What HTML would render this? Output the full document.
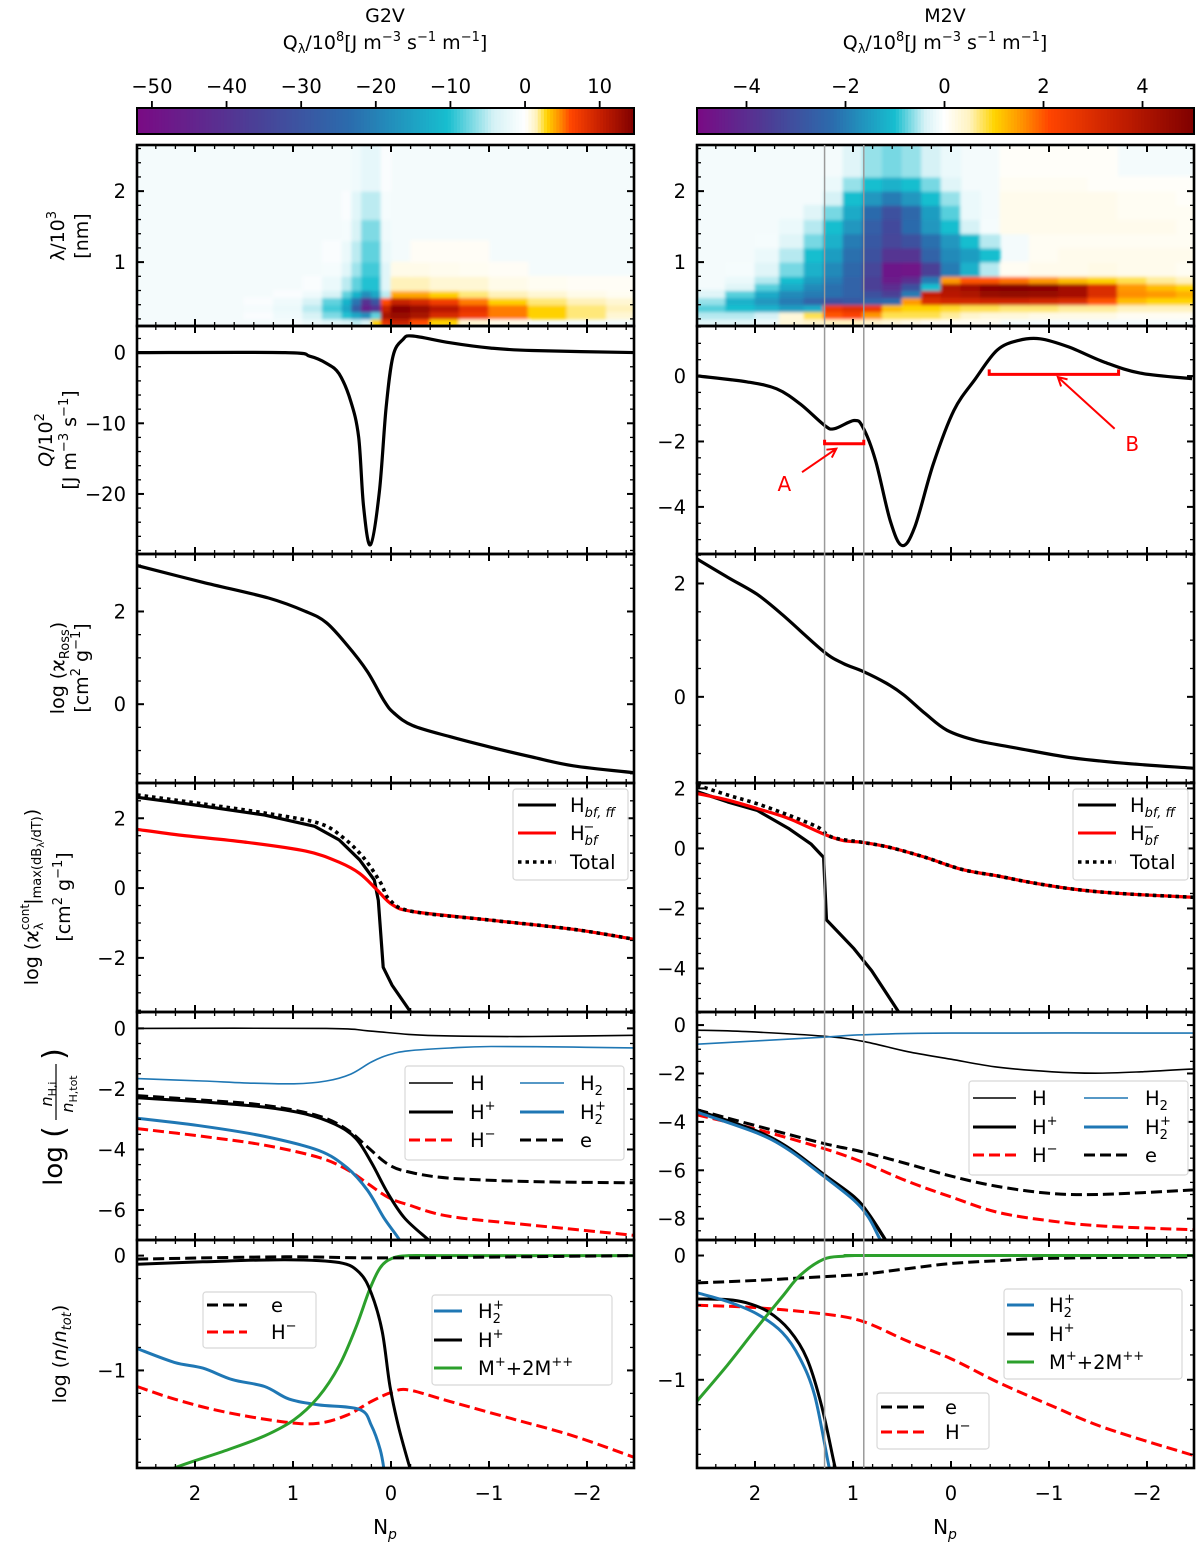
<!DOCTYPE html>
<html><head><meta charset="utf-8">
<style>
html,body{margin:0;padding:0;background:#fff;}
svg{display:block;font-family:"DejaVu Sans","Liberation Sans",sans-serif;}
</style></head>
<body>
<svg id="fig" width="1200" height="1542" viewBox="0 0 1200 1542" xmlns="http://www.w3.org/2000/svg">
<defs>
<filter id="hblur" x="-5%" y="-5%" width="110%" height="110%"><feGaussianBlur stdDeviation="1.6"/></filter>
</defs>
<text x="385" y="22" font-size="19" text-anchor="middle">G2V</text>
<text x="385" y="49" font-size="19" text-anchor="middle">Q<tspan font-size="13" dy="4">λ</tspan><tspan dy="-4">/10</tspan><tspan font-size="13" dy="-8">8</tspan><tspan dy="8">[J m</tspan><tspan font-size="13" dy="-8">−3</tspan><tspan dy="8"> s</tspan><tspan font-size="13" dy="-8">−1</tspan><tspan dy="8"> m</tspan><tspan font-size="13" dy="-8">−1</tspan><tspan dy="8">]</tspan></text>
<text x="945" y="22" font-size="19" text-anchor="middle">M2V</text>
<text x="945" y="49" font-size="19" text-anchor="middle">Q<tspan font-size="13" dy="4">λ</tspan><tspan dy="-4">/10</tspan><tspan font-size="13" dy="-8">8</tspan><tspan dy="8">[J m</tspan><tspan font-size="13" dy="-8">−3</tspan><tspan dy="8"> s</tspan><tspan font-size="13" dy="-8">−1</tspan><tspan dy="8"> m</tspan><tspan font-size="13" dy="-8">−1</tspan><tspan dy="8">]</tspan></text>

<g font-size="19" text-anchor="middle">
<text transform="translate(64,236) rotate(-90)">λ/10<tspan font-size="13" dy="-8">3</tspan></text>
<text transform="translate(88,236) rotate(-90)">[nm]</text>
</g>
<g font-size="19" text-anchor="middle">
<text transform="translate(52,440) rotate(-90)"><tspan font-style="italic">Q</tspan>/10<tspan font-size="13" dy="-8">2</tspan></text>
<text transform="translate(76,440) rotate(-90)">[J m<tspan font-size="13" dy="-8">−3</tspan><tspan dy="8"> s</tspan><tspan font-size="13" dy="-8">−1</tspan><tspan dy="8">]</tspan></text>
</g>
<g font-size="19" text-anchor="middle">
<text transform="translate(64,668) rotate(-90)">log (ϰ<tspan font-size="13" dy="5">Ross</tspan><tspan dy="-5">)</tspan></text>
<text transform="translate(88,668) rotate(-90)">[cm<tspan font-size="13" dy="-8">2</tspan><tspan dy="8"> g</tspan><tspan font-size="13" dy="-8">−1</tspan><tspan dy="8">]</tspan></text>
</g>
<g font-size="19" text-anchor="middle">
<text transform="translate(38,897) rotate(-90)">log (ϰ<tspan font-size="12" dy="-9">cont</tspan><tspan font-size="12" dx="-26" dy="14">λ</tspan><tspan dx="18" dy="-5">|</tspan><tspan font-size="13" dy="3">max(dB</tspan><tspan font-size="10" dy="3">λ</tspan><tspan font-size="13" dy="-3">/dT)</tspan><tspan dy="-3">)</tspan></text>
<text transform="translate(70,897) rotate(-90)">[cm<tspan font-size="13" dy="-8">2</tspan><tspan dy="8"> g</tspan><tspan font-size="13" dy="-8">−1</tspan><tspan dy="8">]</tspan></text>
</g>
<g transform="translate(62,1126) rotate(-90)">
<text x="-40" y="0" font-size="26" text-anchor="middle">log</text>
<text x="-6" y="2" font-size="30" text-anchor="middle">(</text>
<text x="32" y="-10" font-size="16" text-anchor="middle" font-style="italic">n<tspan font-size="11" font-style="normal" dy="4">H,i</tspan></text>
<line x1="6" y1="-6" x2="62" y2="-6" stroke="#000" stroke-width="1.2"/>
<text x="32" y="11" font-size="16" text-anchor="middle" font-style="italic">n<tspan font-size="11" font-style="normal" dy="4">H,tot</tspan></text>
<text x="72" y="2" font-size="30" text-anchor="middle">)</text>
</g>
<text transform="translate(66,1354) rotate(-90)" font-size="19" text-anchor="middle">log (<tspan font-style="italic">n</tspan>/<tspan font-style="italic">n</tspan><tspan font-size="13" font-style="italic" dy="5">tot</tspan><tspan dy="-5">)</tspan></text>

<text x="385" y="1534" font-size="20" text-anchor="middle">N<tspan font-size="14" font-style="italic" dy="5">p</tspan></text>
<text x="945" y="1534" font-size="20" text-anchor="middle">N<tspan font-size="14" font-style="italic" dy="5">p</tspan></text>
<g id="plots"></g>
</svg>
<script>
// ===================== DATA =====================
const g2vHeatNpEdges = [2.6, 2.0, 1.5, 1.2, 0.9, 0.7, 0.5, 0.4, 0.3, 0.2, 0.1, 0.0, -0.2, -0.4, -0.7, -1.0, -1.4, -1.8, -2.2, -2.5];
const g2vHeatLamEdges = [0.1, 0.2, 0.3, 0.4, 0.5, 0.6, 0.8, 1.0, 1.3, 1.6, 2.0, 2.65];
const g2vHeatValues = [
 [0,0,0,-1,-2,-3,-4,-5,-4,3,8,10,6,3,1,0.5,0,0,0],
 [0,0,-0.5,-1.5,-4,-7,-10,-14,-18,-8,12,13,12,9,7,5,3,2,1],
 [0,0,-1,-2,-5,-9,-14,-28,-45,-40,10,14,13,11,8,5,3,2,1.5],
 [0,0,-0.5,-1.5,-4,-8,-12,-22,-40,-30,6,10,9,7,5,3,2,1.5,1],
 [0,0,0,-0.5,-1.5,-4,-8,-12,-18,-14,-5,4,4,3,2,1.5,1,0.5,0.3],
 [0,0,0,0,-0.5,-2,-5,-8,-10,-10,-3,1.5,1.5,1,1,0.5,0.3,0.2,0.2],
 [0,0,0,0,0,-1,-3,-6,-9,-9,-3,0.5,0.5,0.4,0.3,0.2,0,0,0],
 [0,0,0,0,0,-0.5,-2,-5,-8,-8,-2,0,0.2,0.2,0.2,0,0,0,0],
 [0,0,0,0,0,0,-1,-4,-7,-7,-1.5,0,0,0,0,0,0,0,0],
 [0,0,0,0,0,0,-0.5,-3,-5,-5,-1,0,0,0,0,0,0,0,0],
 [0,0,0,0,0,0,0,-1.5,-2.5,-2.5,-0.5,0,0,0,0,0,0,0,0]
];
const g2vCbarTicks = [-50, -40, -30, -20, -10, 0, 10];
const m2vHeatNpEdges = [2.6, 2.3, 2.0, 1.75, 1.5, 1.3, 1.1, 0.9, 0.7, 0.5, 0.3, 0.1, -0.1, -0.3, -0.5, -0.8, -1.1, -1.4, -1.7, -2.0, -2.3, -2.5];
const m2vHeatLamEdges = [0.1, 0.2, 0.3, 0.4, 0.5, 0.6, 0.7, 0.8, 1.0, 1.2, 1.4, 1.6, 1.8, 2.0, 2.2, 2.65];
const m2vHeatValues = [
 [-0.3,-0.3,-0.2,0.3,0.4,0.5,0.5,0.4,0.3,0.2,0.1,0.1,0.1,0.1,0,0,0,0,0,0,0],
 [-0.5,-0.5,-0.4,0.3,0.8,2.0,2.2,1.5,0.8,0.8,0.8,0.6,0.4,0.3,0.3,0.2,0.2,0.2,0.1,0.1,0.1],
 [-0.8,-1.0,-1.2,-1.5,-1.3,2.5,2.8,2.5,1.2,1.0,1.0,0.9,0.8,0.8,0.7,0.7,0.6,0.6,0.5,0.5,0.5],
 [-0.6,-1.2,-1.6,-2.0,-2.5,-3.0,-2.8,-2.5,-2.3,1.5,3.0,3.2,3.2,3.3,3.3,3.2,3.0,2.0,1.2,1.0,1.0],
 [-0.3,-0.8,-1.3,-1.8,-2.0,-2.2,-2.5,-3.0,-3.5,-2.0,3.5,3.8,4.0,4.5,4.6,4.5,4.2,3.0,1.6,1.5,1.3],
 [0,-0.3,-0.8,-1.3,-1.8,-2.2,-2.5,-3.5,-4.0,-3.0,-1.0,4.0,4.3,4.8,4.9,4.8,4.2,3.0,1.5,1.2,1.0],
 [0,-0.2,-0.5,-1.0,-1.5,-2.0,-2.5,-3.5,-4.5,-4.0,-2.0,1.5,2.0,2.0,1.8,1.5,1.2,1.0,0.8,0.6,0.5],
 [0,-0.1,-0.3,-0.7,-1.2,-1.8,-2.4,-3.3,-4.6,-4.7,-3.5,-2.0,-1.2,-0.5,0.1,0.15,0.15,0.2,0.15,0.15,0.1],
 [0,0,-0.2,-0.5,-1.0,-1.5,-2.2,-3.0,-3.8,-3.8,-2.5,-1.8,-1.5,-1.0,0,0.1,0.15,0.15,0.15,0.15,0.15],
 [0,0,-0.1,-0.3,-0.7,-1.2,-2.0,-2.8,-3.3,-3.0,-2.2,-1.6,-1.0,-0.5,0,0.1,0.1,0.1,0.1,0.1,0.1],
 [0,0,0,-0.2,-0.5,-1.0,-1.6,-2.6,-3.2,-2.3,-1.6,-1.0,-0.4,-0.1,0.15,0.15,0.15,0.15,0.15,0.15,0.1],
 [0,0,0,0,-0.3,-0.7,-1.3,-2.3,-3.0,-2.4,-1.5,-0.8,-0.2,0,0.15,0.15,0.15,0.15,0.1,0.1,0.1],
 [0,0,0,0,0,-0.4,-1.0,-1.6,-2.0,-1.6,-1.0,-0.6,-0.2,0,0.15,0.15,0.15,0.15,0.1,0.1,0.05],
 [0,0,0,0,0,-0.2,-0.6,-1.0,-1.2,-1.0,-0.7,-0.3,0,0,0.1,0.1,0.1,0.05,0.05,0.05,0.05],
 [0,0,0,0,0,0,-0.3,-0.6,-0.7,-0.6,-0.4,-0.2,0,0,0.05,0.05,0.05,0.05,0,0,0]
];
const m2vCbarTicks = [-4, -2, 0, 2, 4];

const g2vQNp = [2.59,1.08,0.83,0.66,0.53,0.41,0.33,0.28,0.21,0.12,0.05,-0.02,-0.12,-0.22,-0.6,-1.02,-1.44,-2.49];
const g2vQVal = [0,0,-0.5,-1.5,-3,-6.9,-12,-21.8,-27.2,-19.9,-7.8,-0.5,1.85,2.36,1.4,0.64,0.3,0];
const g2vRossNp = [2.59,1.92,1.25,0.87,0.66,0.45,0.24,0.07,-0.03,-0.22,-0.6,-1.02,-1.44,-1.86,-2.49];
const g2vRossVal = [2.99,2.63,2.29,2.0,1.76,1.28,0.7,0.07,-0.19,-0.46,-0.7,-0.93,-1.14,-1.33,-1.48];
const g2vHbfNp = [2.59,1.92,1.29,0.78,0.53,0.32,0.17,0.13,0.08,-0.01,-0.2];
const g2vHbfVal = [2.6,2.35,2.09,1.77,1.38,0.81,0.23,-0.35,-2.27,-2.78,-3.55];
const g2vHmbfNp = [2.59,2.13,1.5,0.87,0.53,0.32,0.15,-0.01,-0.22,-1.02,-1.86,-2.49];
const g2vHmbfVal = [1.68,1.51,1.32,1.06,0.74,0.42,-0.03,-0.47,-0.67,-0.92,-1.18,-1.47];
const g2vTotNp = [2.59,1.92,1.29,0.74,0.49,0.28,0.11,0.01,-0.22,-1.02,-1.86,-2.49];
const g2vTotVal = [2.67,2.41,2.15,1.86,1.45,0.87,0.17,-0.35,-0.67,-0.92,-1.18,-1.47];
const g2vHNp = [2.59,0.66,0.24,-0.18,-0.6,-1.44,-2.49];
const g2vHVal = [0,0,-0.08,-0.2,-0.25,-0.27,-0.23];
const g2vH2Np = [2.59,1.92,1.5,0.99,0.66,0.41,0.2,0.03,-0.18,-0.6,-1.02,-1.86,-2.49];
const g2vH2Val = [-1.66,-1.74,-1.8,-1.83,-1.74,-1.51,-1.11,-0.88,-0.74,-0.65,-0.6,-0.62,-0.65];
const g2vHpNp = [2.59,1.92,1.29,0.87,0.57,0.36,0.2,0.03,-0.14,-0.37,-0.5];
const g2vHpVal = [-2.29,-2.43,-2.6,-2.83,-3.17,-3.63,-4.43,-5.46,-6.27,-6.95,-7.3];
const g2vENp = [2.59,1.92,1.29,0.74,0.45,0.24,0.03,-0.18,-0.6,-1.44,-2.49];
const g2vEVal = [-2.22,-2.37,-2.54,-2.89,-3.34,-3.92,-4.49,-4.74,-4.95,-5.06,-5.1];
const g2vH2pNp = [2.59,1.92,1.29,0.74,0.45,0.24,0.07,-0.08,-0.15];
const g2vH2pVal = [-2.97,-3.23,-3.57,-4.03,-4.6,-5.35,-6.27,-6.95,-7.4];
const g2vHmNp = [2.59,1.92,1.29,0.74,0.45,0.24,0.03,-0.18,-0.6,-1.44,-2.49];
const g2vHmVal = [-3.31,-3.57,-3.86,-4.26,-4.66,-5.12,-5.58,-5.83,-6.21,-6.5,-6.84];
const g2vIonENp = [2.59,1.08,0,-2.49];
const g2vIonEVal = [-0.03,-0.01,-0.02,0];
const g2vIonHpNp = [2.59,1.92,1.08,0.53,0.32,0.2,0.09,0.01,-0.08,-0.2,-0.25];
const g2vIonHpVal = [-0.075,-0.054,-0.036,-0.06,-0.15,-0.33,-0.66,-1.14,-1.5,-1.87,-2.0];
const g2vIonMNp = [2.4,2.21,1.66,1.29,0.99,0.74,0.53,0.36,0.22,0.11,-0.01,-0.18,-0.6,-2.49];
const g2vIonMVal = [-1.95,-1.85,-1.69,-1.57,-1.43,-1.23,-0.96,-0.63,-0.3,-0.105,-0.024,0,0,0];
const g2vIonH2pNp = [2.59,2.21,1.92,1.62,1.29,1.04,0.74,0.32,0.2,0.11,0.07,0.05];
const g2vIonH2pVal = [-0.81,-0.93,-0.98,-1.08,-1.14,-1.25,-1.3,-1.34,-1.48,-1.69,-1.87,-2.0];
const g2vIonHmNp = [2.59,2.21,1.71,1.08,0.74,0.45,0.2,-0.01,-0.18,-0.6,-1.23,-1.86,-2.49];
const g2vIonHmVal = [-1.14,-1.25,-1.36,-1.45,-1.46,-1.39,-1.27,-1.19,-1.17,-1.27,-1.42,-1.57,-1.76];

const m2vQNp = [2.58,2.08,1.78,1.54,1.29,1.19,0.99,0.90,0.77,0.62,0.50,0.37,0.18,-0.03,-0.25,-0.47,-0.69,-0.91,-1.2,-1.56,-1.93,-2.46];
const m2vQVal = [0,-0.18,-0.39,-0.85,-1.51,-1.61,-1.36,-1.56,-2.58,-4.42,-5.18,-4.62,-2.68,-1.05,-0.08,0.79,1.09,1.14,0.89,0.43,0.09,-0.08];
const m2vRossNp = [2.59,2.28,1.98,1.72,1.3,1.1,0.9,0.66,0.48,0.26,0.04,-0.26,-0.66,-1.21,-1.76,-2.48];
const m2vRossVal = [2.43,2.11,1.81,1.45,0.8,0.59,0.45,0.24,0.03,-0.3,-0.59,-0.77,-0.9,-1.07,-1.17,-1.26];
const m2vHbfNp = [2.59,2.28,1.98,1.65,1.43,1.3,1.27,0.99,0.81,0.53,0.45];
const m2vHbfVal = [1.89,1.55,1.27,0.65,0.15,-0.3,-2.38,-3.34,-4.07,-5.47,-5.9];
const m2vHmbfNp = [2.59,2.28,1.98,1.65,1.3,1.1,0.9,0.62,0.26,-0.11,-0.48,-0.84,-1.28,-1.76,-2.48];
const m2vHmbfVal = [1.83,1.61,1.33,0.99,0.48,0.26,0.2,0.03,-0.3,-0.7,-0.92,-1.15,-1.37,-1.51,-1.63];
const m2vTotNp = [2.59,2.28,1.98,1.65,1.36,1.21,0.9,0.62,0.26,-0.11,-0.48,-0.84,-1.28,-1.76,-2.48];
const m2vTotVal = [2.11,1.78,1.49,1.1,0.71,0.37,0.2,0.03,-0.3,-0.7,-0.92,-1.15,-1.37,-1.51,-1.63];
const m2vHNp = [2.59,2.09,1.3,0.9,0.44,0,-0.48,-1.03,-1.47,-1.94,-2.48];
const m2vHVal = [-0.21,-0.27,-0.46,-0.67,-1.1,-1.41,-1.74,-1.93,-1.99,-1.93,-1.81];
const m2vH2Np = [2.59,1.3,0.9,0,-2.48];
const m2vH2Val = [-0.79,-0.5,-0.4,-0.33,-0.33];
const m2vENp = [2.59,1.98,1.3,0.9,0.44,0,-0.48,-1.03,-1.58,-2.48];
const m2vEVal = [-3.5,-4.17,-4.89,-5.24,-5.74,-6.24,-6.67,-6.96,-6.99,-6.81];
const m2vHmNp = [2.59,1.98,1.3,0.9,0.44,0,-0.48,-1.03,-1.58,-2.48];
const m2vHmVal = [-3.71,-4.31,-5.1,-5.67,-6.46,-7.1,-7.74,-8.1,-8.31,-8.46];
const m2vHpNp = [2.59,1.98,1.65,1.3,0.99,0.84,0.68,0.6];
const m2vHpVal = [-3.53,-4.39,-5.1,-6.17,-7.1,-7.81,-8.81,-9.4];
const m2vH2pNp = [2.59,1.98,1.65,1.3,0.99,0.84,0.73,0.65];
const m2vH2pVal = [-3.6,-4.46,-5.17,-6.24,-7.24,-7.96,-8.81,-9.4];
const m2vIonENp = [2.59,1.98,1.3,0.9,0.44,0,-0.48,-1.03,-2.48];
const m2vIonEVal = [-0.22,-0.2,-0.17,-0.15,-0.105,-0.064,-0.042,-0.022,-0.01];
const m2vIonMNp = [2.59,2.28,1.98,1.72,1.54,1.3,1.1,0.95,0.8,-2.48];
const m2vIonMVal = [-1.17,-0.88,-0.58,-0.33,-0.16,-0.03,-0.005,0,0,0];
const m2vIonHpNp = [2.59,2.28,2.09,1.87,1.65,1.47,1.32,1.19,1.15];
const m2vIonHpVal = [-0.35,-0.355,-0.38,-0.45,-0.6,-0.83,-1.21,-1.68,-1.8];
const m2vIonH2pNp = [2.59,2.28,1.98,1.72,1.54,1.39,1.25,1.21];
const m2vIonH2pVal = [-0.3,-0.37,-0.47,-0.62,-0.83,-1.13,-1.68,-1.8];
const m2vIonHmNp = [2.59,1.98,1.3,0.9,0.44,0,-0.48,-1.03,-1.58,-2.48];
const m2vIonHmVal = [-0.4,-0.42,-0.47,-0.53,-0.69,-0.83,-1.02,-1.21,-1.39,-1.61];
const m2vGuideNp = [1.29, 0.89];
const m2vBracketANp = [1.29, 0.89];
const m2vBracketBNp = [-0.39, -1.71];

// ===================== DRAWING =====================
const NS = 'http://www.w3.org/2000/svg';
const root = document.getElementById('plots');
function mk(tag, attrs, parent) {
  const el = document.createElementNS(NS, tag);
  for (const k in attrs) el.setAttribute(k, attrs[k]);
  (parent || root).appendChild(el);
  return el;
}
function fmt(v) { return (v < 0 ? '\u2212' + Math.abs(v) : String(v)); }

const PANEL_Y = [[145,326],[326,554],[554,783],[783,1012],[1012,1240],[1240,1468]];
const COLS = [{x0:137, x1:634, off:0, key:'g2v'}, {x0:697, x1:1194, off:560, key:'m2v'}];
const TICKFS = 19.5;

function makeAxis(col, row, vTop, vBot, major, minorStep) {
  const c = COLS[col];
  const [y0, y1] = PANEL_Y[row];
  const ax = {x0:c.x0, x1:c.x1, y0, y1, vTop, vBot,
    xs: np => 195 + c.off + (2 - np) * 98,
    ys: v => y0 + (vTop - v) / (vTop - vBot) * (y1 - y0)};
  const g = mk('g', {});
  
  
  ax.g = g;
  const cid = 'clip-' + col + '-' + row;
  const cp = mk('clipPath', {id: cid}, g);
  mk('rect', {x: c.x0, y: y0, width: c.x1 - c.x0, height: y1 - y0}, cp);
  ax.plot = mk('g', {'clip-path': 'url(#' + cid + ')'}, g);
  ax.major = major; ax.minorStep = minorStep;
  return ax;
}
function finishAxis(ax, showX) {
  const g = ax.g;
  for (let k = -13; k <= 13; k++) {
    const np = k * 0.2; const x = ax.xs(np);
    if (x < ax.x0 + 0.5 || x > ax.x1 - 0.5) continue;
    const isMaj = Math.abs(np - Math.round(np)) < 1e-6;
    const L = isMaj ? 7 : 4;
    mk('line', {x1:x, y1:ax.y0, x2:x, y2:ax.y0 + L, stroke:'#000', 'stroke-width':isMaj?2:1.3}, g);
    mk('line', {x1:x, y1:ax.y1, x2:x, y2:ax.y1 - L, stroke:'#000', 'stroke-width':isMaj?2:1.3}, g);
    if (showX && isMaj) {
      const t = mk('text', {x:x, y:ax.y1 + 32, 'font-size':TICKFS, 'text-anchor':'middle'}, g);
      
      
      t.textContent = fmt(Math.round(np));
    }
  }
  const lo = Math.min(ax.vTop, ax.vBot), hi = Math.max(ax.vTop, ax.vBot);
  const s = ax.minorStep;
  for (let v = Math.ceil(lo / s) * s; v <= hi + 1e-9; v += s) {
    const y = ax.ys(v);
    if (y < ax.y0 + 0.5 || y > ax.y1 - 0.5) continue;
    const isMaj = ax.major.some(m => Math.abs(m - v) < 1e-6);
    const L = isMaj ? 7 : 4;
    mk('line', {x1:ax.x0, y1:y, x2:ax.x0 + L, y2:y, stroke:'#000', 'stroke-width':isMaj?2:1.3}, g);
    mk('line', {x1:ax.x1, y1:y, x2:ax.x1 - L, y2:y, stroke:'#000', 'stroke-width':isMaj?2:1.3}, g);
  }
  ax.major.forEach(m => {
    const y = ax.ys(m);
    const t = mk('text', {x:ax.x0 - 11, y:y + 7, 'font-size':TICKFS, 'text-anchor':'end'}, g);
    
    
    t.textContent = fmt(m);
  });
  const fr = mk('rect', {x:ax.x0, y:ax.y0, width:ax.x1 - ax.x0, height:ax.y1 - ax.y0, fill:'none', stroke:'#000', 'stroke-width':2.6}, g);
  
  
}
function series(ax, nps, vals, opts, name) {
  const P = nps.map((n, i) => [ax.xs(n), ax.ys(vals[i])]);
  let d = 'M' + P[0][0].toFixed(1) + ',' + P[0][1].toFixed(1);
  for (let i = 0; i < P.length - 1; i++) {
    if (opts.lin) { d += 'L' + P[i+1][0].toFixed(1) + ',' + P[i+1][1].toFixed(1); continue; }
    const p0 = P[Math.max(0, i-1)], p1 = P[i], p2 = P[i+1], p3 = P[Math.min(P.length-1, i+2)];
    const c1x = p1[0] + (p2[0]-p0[0])/6, c1y = p1[1] + (p2[1]-p0[1])/6;
    const c2x = p2[0] - (p3[0]-p1[0])/6, c2y = p2[1] - (p3[1]-p1[1])/6;
    d += 'C' + c1x.toFixed(1) + ',' + c1y.toFixed(1) + ' ' + c2x.toFixed(1) + ',' + c2y.toFixed(1) + ' ' + p2[0].toFixed(1) + ',' + p2[1].toFixed(1);
  }
  const p = mk('path', {d:d, fill:'none', stroke:opts.c, 'stroke-width':opts.w || 3, 'stroke-linejoin':'round', 'stroke-linecap': 'butt'}, ax.plot);
  if (opts.dash) p.setAttribute('stroke-dasharray', opts.dash);
  
  
  return p;
}

const NEG = [[0,[255,255,255]],[0.08,[214,242,246]],[0.2,[23,190,207]],[0.45,[43,108,173]],[0.7,[75,63,150]],[1,[122,10,132]]];
const POS = [[0,[255,255,255]],[0.1,[255,243,192]],[0.2,[255,212,0]],[0.32,[255,140,0]],[0.42,[255,69,0]],[0.7,[196,30,0]],[1,[127,0,0]]];
function interp(stops, t) {
  t = Math.max(0, Math.min(1, t));
  for (let i = 1; i < stops.length; i++) {
    if (t <= stops[i][0]) {
      const a = stops[i-1], b = stops[i]; const f = (t - a[0]) / (b[0] - a[0]);
      const c = a[1].map((v, k) => Math.round(v + (b[1][k] - v) * f));
      return 'rgb(' + c.join(',') + ')';
    }
  }
  return 'rgb(' + stops[stops.length-1][1].join(',') + ')';
}
function cmap(v, vmin, vmax) { return v < 0 ? interp(NEG, v / vmin) : interp(POS, v / vmax); }

function heatmap(ax, npE, lamE, vals, vmin, vmax, name) {
  const bg = mk('rect', {x:ax.x0, y:ax.y0, width:ax.x1-ax.x0, height:ax.y1-ax.y0, fill:'#f4fbfc'}, ax.plot);
  
  
  const hg = mk('g', {filter:'url(#hblur)'}, ax.plot);
  for (let j = 0; j < vals.length; j++) {
    for (let i = 0; i < vals[j].length; i++) {
      const v = vals[j][i]; if (v === 0) continue;
      const xa = ax.xs(npE[i]), xb = ax.xs(npE[i+1]);
      const ya = ax.ys(lamE[j+1]), yb = ax.ys(lamE[j]);
      const r = mk('rect', {x:xa - 0.5, y:ya - 0.5, width:xb - xa + 1, height:yb - ya + 1, fill:cmap(v, vmin, vmax)}, hg);
      
      
    }
  }
}
function colorbar(x0, x1, vmin, vmax, ticks, name) {
  const g = mk('g', {});
  
  
  const y0 = 108, y1 = 134, N = 160;
  for (let i = 0; i < N; i++) {
    const v = vmin + (vmax - vmin) * (i + 0.5) / N;
    mk('rect', {x:x0 + (x1-x0)*i/N, y:y0, width:(x1-x0)/N + 0.6, height:y1-y0, fill:cmap(v, vmin, vmax)}, g);
  }
  mk('rect', {x:x0, y:y0, width:x1-x0, height:y1-y0, fill:'none', stroke:'#000', 'stroke-width':2}, g);
  ticks.forEach(t => {
    const x = x0 + (t - vmin) / (vmax - vmin) * (x1 - x0);
    mk('line', {x1:x, y1:y0, x2:x, y2:y0 - 7, stroke:'#000', 'stroke-width':1.8}, g);
    const tx = mk('text', {x:x, y:y0 - 15, 'font-size':TICKFS, 'text-anchor':'middle'}, g);
    
    
    tx.textContent = fmt(t);
  });
}
function legend(bx, by, bw, bh, entries, name) {
  const g = mk('g', {});
  
  
  mk('rect', {x:bx, y:by, width:bw, height:bh, rx:3, fill:'#fff', 'fill-opacity':0.85, stroke:'#d8d8d8', 'stroke-width':1.2}, g);
  entries.forEach(e => {
    const ln = mk('line', {x1:e.lx, y1:e.y, x2:e.lx + e.lw, y2:e.y, stroke:e.c, 'stroke-width':e.w || 3}, g);
    if (e.dash) ln.setAttribute('stroke-dasharray', e.dash);
    const t = mk('text', {x:e.tx, y:e.y + 7, 'font-size':19.5}, g);
    
    
    t.innerHTML = e.label;
  });
}
const BLK = '#000', RED = '#ff0000', BLU = '#1f77b4', GRN = '#2ca02c';
const DASH = '11,5', DOT = '3.5,4';

colorbar(137, 634, -52.0, 14.6, g2vCbarTicks, 'g2v-colorbar');
colorbar(697, 1194, -5.0, 5.04, m2vCbarTicks, 'm2v-colorbar');

let a;
a = makeAxis(0, 0, 2.65, 0.1, [1, 2], 0.2);
heatmap(a, g2vHeatNpEdges, g2vHeatLamEdges, g2vHeatValues, -52.0, 14.6, 'g2v-heatmap');
finishAxis(a, false);

a = makeAxis(0, 1, 3.77, -28.5, [0, -10, -20], 2);
series(a, g2vQNp, g2vQVal, {c:BLK, w:3.2}, 'g2v-q-line');
finishAxis(a, false);

a = makeAxis(0, 2, 3.24, -1.70, [0, 2], 0.5);
series(a, g2vRossNp, g2vRossVal, {c:BLK, w:3.2}, 'g2v-rosseland-line');
finishAxis(a, false);

a = makeAxis(0, 3, 3.01, -3.55, [-2, 0, 2], 0.5);
series(a, g2vHbfNp, g2vHbfVal, {c:BLK, w:3.2, lin:true}, 'g2v-h-bfff-line');
series(a, g2vHmbfNp, g2vHmbfVal, {c:RED, w:3.2}, 'g2v-hminus-bf-line');
series(a, g2vTotNp, g2vTotVal, {c:BLK, w:3.6, dash:DOT}, 'g2v-total-line');
legend(513, 789, 115, 91, [
  {lx:518, lw:38, y:805, c:BLK, tx:570, label:'H<tspan font-size="13" font-style="italic" dy="5">bf, ff</tspan>'},
  {lx:518, lw:38, y:833, c:RED, tx:570, label:'H<tspan font-size="13" font-style="italic" dy="5">bf</tspan><tspan font-size="13" dx="-14" dy="-14">−</tspan>'},
  {lx:518, lw:38, y:862, c:BLK, w:3.6, dash:DOT, tx:570, label:'Total'}], 'g2v-opacity-legend');
finishAxis(a, false);

a = makeAxis(0, 4, 0.54, -6.99, [0, -2, -4, -6], 0.5);
series(a, g2vHNp, g2vHVal, {c:BLK, w:1.6}, 'g2v-h-line');
series(a, g2vH2Np, g2vH2Val, {c:BLU, w:1.6}, 'g2v-h2-line');
series(a, g2vHmNp, g2vHmVal, {c:RED, w:3, dash:DASH}, 'g2v-hminus-line');
series(a, g2vH2pNp, g2vH2pVal, {c:BLU, w:3}, 'g2v-h2plus-line');
series(a, g2vENp, g2vEVal, {c:BLK, w:3, dash:DASH}, 'g2v-electron-line');
series(a, g2vHpNp, g2vHpVal, {c:BLK, w:3}, 'g2v-hplus-line');
legend(405, 1066, 219, 94, [
  {lx:409, lw:44, y:1083, c:BLK, w:1.6, tx:470, label:'H'},
  {lx:409, lw:44, y:1112, c:BLK, w:3, tx:470, label:'H<tspan font-size="13" dy="-9">+</tspan>'},
  {lx:409, lw:44, y:1140, c:RED, w:3, dash:DASH, tx:470, label:'H<tspan font-size="13" dy="-9">−</tspan>'},
  {lx:520, lw:44, y:1083, c:BLU, w:1.6, tx:580, label:'H<tspan font-size="13" dy="5">2</tspan>'},
  {lx:520, lw:44, y:1112, c:BLU, w:3, tx:580, label:'H<tspan font-size="13" dy="5">2</tspan><tspan font-size="13" dx="-8" dy="-14">+</tspan>'},
  {lx:520, lw:44, y:1140, c:BLK, w:3, dash:DASH, tx:580, label:'e'}], 'g2v-hydrogen-legend');
finishAxis(a, false);

a = makeAxis(0, 5, 0.136, -1.85, [0, -1], 0.2);
series(a, g2vIonHmNp, g2vIonHmVal, {c:RED, w:3, dash:DASH}, 'g2v-ion-hminus-line');
series(a, g2vIonH2pNp, g2vIonH2pVal, {c:BLU, w:3}, 'g2v-ion-h2plus-line');
series(a, g2vIonMNp, g2vIonMVal, {c:GRN, w:3}, 'g2v-ion-metals-line');
series(a, g2vIonHpNp, g2vIonHpVal, {c:BLK, w:3}, 'g2v-ion-hplus-line');
series(a, g2vIonENp, g2vIonEVal, {c:BLK, w:3, dash:DASH}, 'g2v-ion-electron-line');
legend(203, 1292, 113, 56, [
  {lx:207, lw:40, y:1305, c:BLK, w:3, dash:DASH, tx:271, label:'e'},
  {lx:207, lw:40, y:1332, c:RED, w:3, dash:DASH, tx:271, label:'H<tspan font-size="13" dy="-9">−</tspan>'}], 'g2v-ion-legend-1');
legend(432, 1295, 180, 90, [
  {lx:434, lw:28, y:1311, c:BLU, w:3, tx:478, label:'H<tspan font-size="13" dy="5">2</tspan><tspan font-size="13" dx="-8" dy="-14">+</tspan>'},
  {lx:434, lw:28, y:1340, c:BLK, w:3, tx:478, label:'H<tspan font-size="13" dy="-9">+</tspan>'},
  {lx:434, lw:28, y:1368, c:GRN, w:3, tx:478, label:'M<tspan font-size="13" dy="-9">+</tspan><tspan dy="9">+2M</tspan><tspan font-size="13" dy="-9">++</tspan>'}], 'g2v-ion-legend-2');
finishAxis(a, true);

a = makeAxis(1, 0, 2.65, 0.1, [1, 2], 0.2);
heatmap(a, m2vHeatNpEdges, m2vHeatLamEdges, m2vHeatValues, -5.0, 5.04, 'm2v-heatmap');
finishAxis(a, false);

a = makeAxis(1, 1, 1.53, -5.44, [0, -2, -4], 0.5);
series(a, m2vQNp, m2vQVal, {c:BLK, w:3.2}, 'm2v-q-line');
const m2vQAx = a;
finishAxis(a, false);

a = makeAxis(1, 2, 2.52, -1.52, [0, 2], 0.5);
series(a, m2vRossNp, m2vRossVal, {c:BLK, w:3.2}, 'm2v-rosseland-line');
finishAxis(a, false);

a = makeAxis(1, 3, 2.18, -5.45, [-4, -2, 0, 2], 0.5);
series(a, m2vHbfNp, m2vHbfVal, {c:BLK, w:3.2, lin:true}, 'm2v-h-bfff-line');
series(a, m2vHmbfNp, m2vHmbfVal, {c:RED, w:3.2}, 'm2v-hminus-bf-line');
series(a, m2vTotNp, m2vTotVal, {c:BLK, w:3.6, dash:DOT}, 'm2v-total-line');
legend(1073, 789, 115, 91, [
  {lx:1078, lw:38, y:805, c:BLK, tx:1130, label:'H<tspan font-size="13" font-style="italic" dy="5">bf, ff</tspan>'},
  {lx:1078, lw:38, y:833, c:RED, tx:1130, label:'H<tspan font-size="13" font-style="italic" dy="5">bf</tspan><tspan font-size="13" dx="-14" dy="-14">−</tspan>'},
  {lx:1078, lw:38, y:862, c:BLK, w:3.6, dash:DOT, tx:1130, label:'Total'}], 'm2v-opacity-legend');
finishAxis(a, false);

a = makeAxis(1, 4, 0.54, -8.88, [0, -2, -4, -6, -8], 0.5);
series(a, m2vHNp, m2vHVal, {c:BLK, w:1.6}, 'm2v-h-line');
series(a, m2vH2Np, m2vH2Val, {c:BLU, w:1.6}, 'm2v-h2-line');
series(a, m2vHmNp, m2vHmVal, {c:RED, w:3, dash:DASH}, 'm2v-hminus-line');
series(a, m2vENp, m2vEVal, {c:BLK, w:3, dash:DASH}, 'm2v-electron-line');
series(a, m2vHpNp, m2vHpVal, {c:BLK, w:3.4}, 'm2v-hplus-line');
series(a, m2vH2pNp, m2vH2pVal, {c:BLU, w:3}, 'm2v-h2plus-line');
legend(969, 1081, 219, 94, [
  {lx:973, lw:43, y:1098, c:BLK, w:1.6, tx:1032, label:'H'},
  {lx:973, lw:43, y:1127, c:BLK, w:3, tx:1032, label:'H<tspan font-size="13" dy="-9">+</tspan>'},
  {lx:973, lw:43, y:1155, c:RED, w:3, dash:DASH, tx:1032, label:'H<tspan font-size="13" dy="-9">−</tspan>'},
  {lx:1084, lw:44, y:1098, c:BLU, w:1.6, tx:1145, label:'H<tspan font-size="13" dy="5">2</tspan>'},
  {lx:1084, lw:44, y:1127, c:BLU, w:3, tx:1145, label:'H<tspan font-size="13" dy="5">2</tspan><tspan font-size="13" dx="-8" dy="-14">+</tspan>'},
  {lx:1084, lw:44, y:1155, c:BLK, w:3, dash:DASH, tx:1145, label:'e'}], 'm2v-hydrogen-legend');
finishAxis(a, false);

a = makeAxis(1, 5, 0.125, -1.71, [0, -1], 0.2);
series(a, m2vIonHmNp, m2vIonHmVal, {c:RED, w:3, dash:DASH}, 'm2v-ion-hminus-line');
series(a, m2vIonENp, m2vIonEVal, {c:BLK, w:3, dash:DASH}, 'm2v-ion-electron-line');
series(a, m2vIonHpNp, m2vIonHpVal, {c:BLK, w:3}, 'm2v-ion-hplus-line');
series(a, m2vIonH2pNp, m2vIonH2pVal, {c:BLU, w:3}, 'm2v-ion-h2plus-line');
series(a, m2vIonMNp, m2vIonMVal, {c:GRN, w:3}, 'm2v-ion-metals-line');
legend(1004, 1289, 178, 90, [
  {lx:1007, lw:27, y:1305, c:BLU, w:3, tx:1049, label:'H<tspan font-size="13" dy="5">2</tspan><tspan font-size="13" dx="-8" dy="-14">+</tspan>'},
  {lx:1007, lw:27, y:1334, c:BLK, w:3, tx:1049, label:'H<tspan font-size="13" dy="-9">+</tspan>'},
  {lx:1007, lw:27, y:1362, c:GRN, w:3, tx:1049, label:'M<tspan font-size="13" dy="-9">+</tspan><tspan dy="9">+2M</tspan><tspan font-size="13" dy="-9">++</tspan>'}], 'm2v-ion-legend-1');
legend(877, 1393, 112, 56, [
  {lx:881, lw:45, y:1407, c:BLK, w:3, dash:DASH, tx:945, label:'e'},
  {lx:881, lw:45, y:1432, c:RED, w:3, dash:DASH, tx:945, label:'H<tspan font-size="13" dy="-9">−</tspan>'}], 'm2v-ion-legend-2');
finishAxis(a, true);

m2vGuideNp.forEach(np => {
  const x = m2vQAx.xs(np);
  const l = mk('line', {x1:x, y1:145, x2:x, y2:1468, stroke:'#9a9a9a', 'stroke-width':1.5});
  
  
});

(function () {
  const ax = m2vQAx;
  const g = mk('g', {stroke:RED, fill:'none', 'stroke-width':3});
  
  
  const ya = ax.ys(-2.07);
  const xa0 = ax.xs(m2vBracketANp[0]), xa1 = ax.xs(m2vBracketANp[1]);
  const bA = mk('path', {d:`M${xa0},${ya-4}L${xa0},${ya}L${xa1},${ya}L${xa1},${ya-4}`}, g);
  
  
  const yb = ax.ys(0.05);
  const xb0 = ax.xs(m2vBracketBNp[0]), xb1 = ax.xs(m2vBracketBNp[1]);
  const bB = mk('path', {d:`M${xb0},${yb-5}L${xb0},${yb}L${xb1},${yb}L${xb1},${yb-5}`}, g);
  
  
  function arrow(n0, v0, n1, v1, name) {
    const x0 = ax.xs(n0), y0 = ax.ys(v0), x1 = ax.xs(n1), y1 = ax.ys(v1);
    const ang = Math.atan2(y1 - y0, x1 - x0), h = 10;
    const p = mk('path', {d:`M${x0},${y0}L${x1},${y1}M${x1 - h*Math.cos(ang-0.5)},${y1 - h*Math.sin(ang-0.5)}L${x1},${y1}L${x1 - h*Math.cos(ang+0.5)},${y1 - h*Math.sin(ang+0.5)}`, 'stroke-width':2}, g);
    
    
  }
  arrow(1.52, -2.94, 1.17, -2.22, 'region-a-arrow');
  arrow(-1.67, -1.61, -1.09, -0.03, 'region-b-arrow');
  const tA = mk('text', {x:ax.xs(1.70), y:ax.ys(-3.3) + 7, 'font-size':20, fill:RED, 'text-anchor':'middle'});
  
  
  tA.textContent = 'A';
  const tB = mk('text', {x:ax.xs(-1.85), y:ax.ys(-2.07) + 7, 'font-size':20, fill:RED, 'text-anchor':'middle'});
  
  
  tB.textContent = 'B';
})();
</script>
</body></html>
